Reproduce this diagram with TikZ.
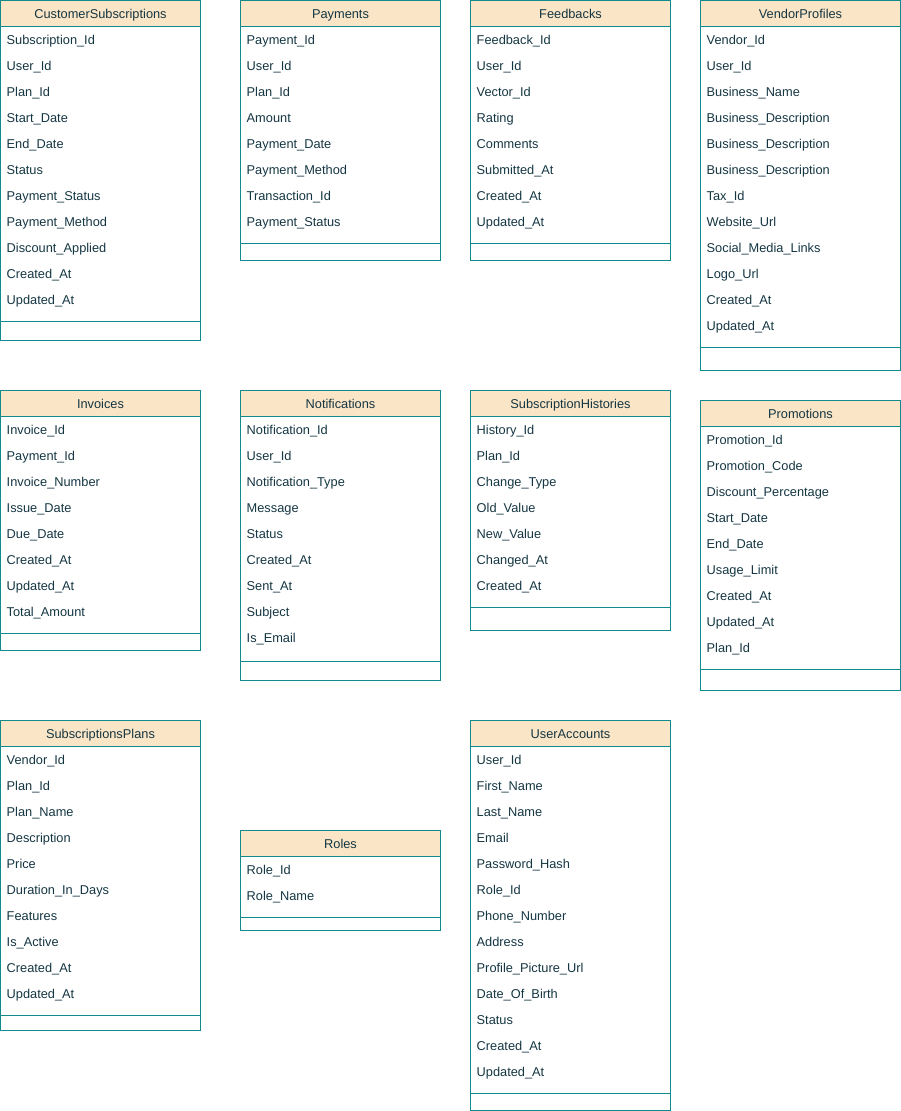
\documentclass[tikz,border=0pt]{standalone}
\usepackage{fontspec}
\setmainfont{Liberation Sans}
\definecolor{tblstroke}{HTML}{0F8B8D}
\definecolor{tblfill}{HTML}{FAE5C7}
\definecolor{tbltext}{HTML}{143642}
\tikzset{
  tblline/.style={draw=tblstroke, line width=1pt},
  hdrbox/.style={tblline, fill=tblfill},
  hdrtext/.style={inner sep=0pt, anchor=base, text=tbltext, font=\fontsize{12.8}{14}\selectfont},
  fldtext/.style={inner sep=0pt, anchor=base west, text=tbltext, font=\fontsize{12.8}{14}\selectfont},
}
% #1 id, #2 x, #3 top, #4 separator y, #5 bottom, #6 title, #7 fields
\newcommand\ertable[7]{%
  \draw[tblline] (#2+0.5,#3+26.5) rectangle (#2+200.5,#5+0.5);
  \draw[hdrbox] (#2+0.5,#3+0.5) rectangle (#2+200.5,#3+26.5);
  \node[hdrtext] (#1-h) at (#2+100.5,#3+18.2) {#6};
  \foreach \f [count=\i] in {#7} {
    \node[fldtext] (#1-\i) at (#2+6.5,#3+13+26*\i+5.4) {\f};
  }
  \draw[tblline] (#2+0.5,#4+0.5) -- (#2+200.5,#4+0.5);
}
\begin{document}
\begin{tikzpicture}[x=1pt,y=-1pt]
\useasboundingbox (0,0) rectangle (901,1111);
\ertable{cs}{0}{0}{321}{340}{CustomerSubscriptions}{Subscription\_Id,User\_Id,Plan\_Id,Start\_Date,End\_Date,Status,Payment\_Status,Payment\_Method,Discount\_Applied,Created\_At,Updated\_At}
\ertable{pay}{240}{0}{243}{260}{Payments}{Payment\_Id,User\_Id,Plan\_Id,Amount,Payment\_Date,Payment\_Method,Transaction\_Id,Payment\_Status}
\ertable{fb}{470}{0}{243}{260}{Feedbacks}{Feedback\_Id,User\_Id,Vector\_Id,Rating,Comments,Submitted\_At,Created\_At,Updated\_At}
\ertable{vp}{700}{0}{347}{370}{VendorProfiles}{Vendor\_Id,User\_Id,Business\_Name,Business\_Description,Business\_Description,Business\_Description,Tax\_Id,Website\_Url,Social\_Media\_Links,Logo\_Url,Created\_At,Updated\_At}
\ertable{inv}{0}{390}{633}{650}{Invoices}{Invoice\_Id,Payment\_Id,Invoice\_Number,Issue\_Date,Due\_Date,Created\_At,Updated\_At,Total\_Amount}
\ertable{notif}{240}{390}{661}{680}{Notifications}{Notification\_Id,User\_Id,Notification\_Type,Message,Status,Created\_At,Sent\_At,Subject,Is\_Email}
\ertable{sh}{470}{390}{607}{630}{SubscriptionHistories}{History\_Id,Plan\_Id,Change\_Type,Old\_Value,New\_Value,Changed\_At,Created\_At}
\ertable{promo}{700}{400}{669}{690}{Promotions}{Promotion\_Id,Promotion\_Code,Discount\_Percentage,Start\_Date,End\_Date,Usage\_Limit,Created\_At,Updated\_At,Plan\_Id}
\ertable{sp}{0}{720}{1015}{1030}{SubscriptionsPlans}{Vendor\_Id,Plan\_Id,Plan\_Name,Description,Price,Duration\_In\_Days,Features,Is\_Active,Created\_At,Updated\_At}
\ertable{roles}{240}{830}{917}{930}{Roles}{Role\_Id,Role\_Name}
\ertable{ua}{470}{720}{1093}{1110}{UserAccounts}{User\_Id,First\_Name,Last\_Name,Email,Password\_Hash,Role\_Id,Phone\_Number,Address,Profile\_Picture\_Url,Date\_Of\_Birth,Status,Created\_At,Updated\_At}
\end{tikzpicture}
\end{document}
